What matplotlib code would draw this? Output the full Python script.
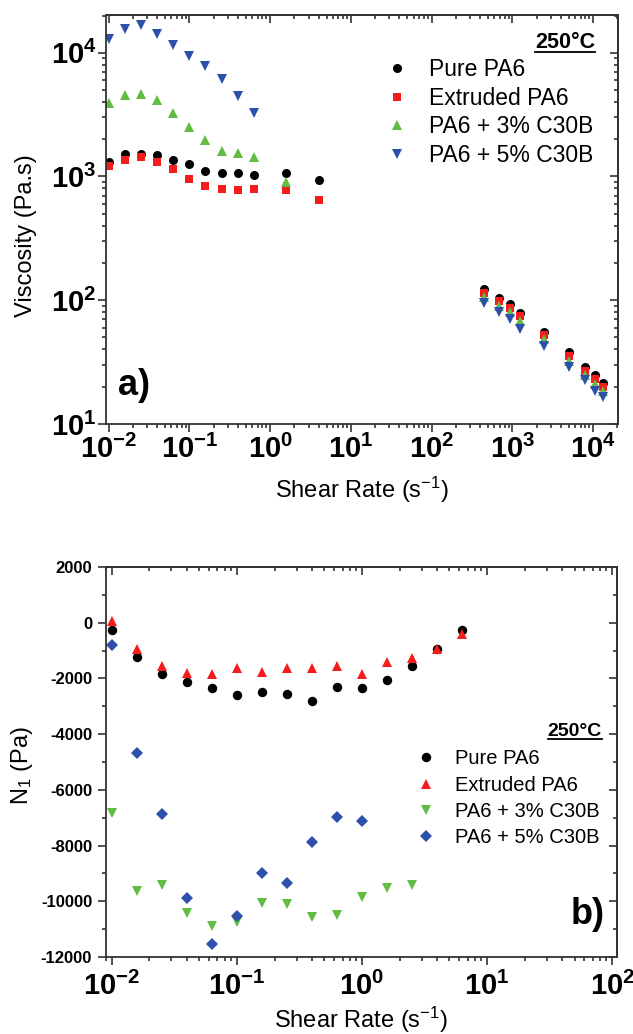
import numpy as np
import matplotlib.pyplot as plt
from matplotlib.ticker import LogLocator, MultipleLocator, NullFormatter
from matplotlib.lines import Line2D

plt.rcParams.update({
    "font.family": "Liberation Sans",
    "mathtext.fontset": "custom",
    "mathtext.rm": "Liberation Sans",
    "mathtext.bf": "Liberation Sans:bold",
    "mathtext.it": "Liberation Sans:italic",
    "axes.linewidth": 1.3,
    "axes.edgecolor": "#333333",
})

# ---- data: panel a) viscosity ----
rate_lo = [0.01, 0.0158, 0.0251, 0.0398, 0.0631, 0.1, 0.158, 0.251, 0.398, 0.631]
rate_mid = [1.58, 3.98]
rate_hi = [446, 678, 926, 1245, 2430, 5090, 7940, 10700, 13400]

eta_pure = [1320, 1520, 1520, 1500, 1370, 1270, 1110, 1070, 1070, 1030,
            1060, 930,
            124, 104, 93.4, 79, 55.5, 38, 28.9, 25, 21.5]
eta_extr = [1220, 1370, 1440, 1300, 1140, 955, 838, 787, 773, 794,
            783, 643,
            115, 98, 87, 74, 52, 35.5, 27, 23, 20]
eta_c3 = [3940, 4590, 4640, 4130, 3270, 2530, 1980, 1610, 1540, 1430,
          910,
          106, 90, 80, 68, 49, 32.5, 25, 21, 18.5]
eta_c5 = [13000, 15700, 16700, 14300, 11500, 9460, 7870, 6120, 4500, 3240,
          95, 80.5, 70.7, 58.6, 43, 28.9, 22.5, 18.4, 16.5]

# ---- data: panel b) first normal stress difference ----
n1_rate = [0.01, 0.0158, 0.0251, 0.0398, 0.0631, 0.1, 0.158, 0.251, 0.398,
           0.631, 1.0, 1.58, 2.51, 3.98, 6.31]
n1_pure = [-250, -1220, -1840, -2120, -2360, -2600, -2500, -2560, -2810,
           -2300, -2360, -2060, -1540, -960, -260]
n1_extr = [50, -960, -1550, -1820, -1850, -1640, -1760, -1620, -1640,
           -1540, -1850, -1400, -1280, -945, -420]
n1_c3 = [-6845, -9630, -9420, -10430, -10880, -10760, -10080, -10110, -10560,
         -10500, -9860, -9520, -9430]
n1_c5 = [-800, -4670, -6870, -9870, -11550, -10520, -8980, -9340, -7860,
         -6970, -7120]

labels = ["Pure PA6", "Extruded PA6", "PA6 + 3% C30B", "PA6 + 5% C30B"]
colors = ["#000000", "#f41c1c", "#62bb42", "#2d50aa"]

visc_xticks = [1e-2, 1e-1, 1e0, 1e1, 1e2, 1e3, 1e4]
visc_xticklabels = [r"$\mathbf{10^{-2}}$", r"$\mathbf{10^{-1}}$", r"$\mathbf{10^{0}}$",
                    r"$\mathbf{10^{1}}$", r"$\mathbf{10^{2}}$", r"$\mathbf{10^{3}}$",
                    r"$\mathbf{10^{4}}$"]
visc_yticks = [1e1, 1e2, 1e3, 1e4]
visc_yticklabels = [r"$\mathbf{10^{1}}$", r"$\mathbf{10^{2}}$", r"$\mathbf{10^{3}}$",
                    r"$\mathbf{10^{4}}$"]
n1_xticks = [1e-2, 1e-1, 1e0, 1e1, 1e2]
n1_xticklabels = [r"$\mathbf{10^{-2}}$", r"$\mathbf{10^{-1}}$", r"$\mathbf{10^{0}}$",
                  r"$\mathbf{10^{1}}$", r"$\mathbf{10^{2}}$"]
n1_yticks = [2000, 0, -2000, -4000, -6000, -8000, -10000, -12000]
n1_yticklabels = ["2000", "0", "-2000", "-4000", "-6000", "-8000", "-10000", "-12000"]

fig = plt.figure(figsize=(6.33, 10.34), dpi=100)
ax1 = fig.add_axes([0.1675, 0.590, 0.809, 0.3955])
ax2 = fig.add_axes([0.1675, 0.0745, 0.807, 0.3772])

tick_kw = dict(color="#333333", width=1.2)


def log_minor():
    return LogLocator(base=10, subs=np.arange(2, 10), numticks=100)


# ---- panel a ----
ax1.plot(rate_lo + rate_mid + rate_hi, eta_pure, "o", ms=6.5, color=colors[0], mew=0, label=labels[0])
ax1.plot(rate_lo + rate_mid + rate_hi, eta_extr, "s", ms=5.8, color=colors[1], mew=0, label=labels[1])
ax1.plot(rate_lo + rate_mid[:1] + rate_hi, eta_c3, "^", ms=7.8, color=colors[2], mew=0, label=labels[2])
ax1.plot(rate_lo + rate_hi, eta_c5, "v", ms=7.8, color=colors[3], mew=0, label=labels[3])
ax1.set_xscale("log")
ax1.set_yscale("log")
ax1.set_xlim(0.0093, 20400)
ax1.set_ylim(10, 20200)
ax1.set_xticks(visc_xticks, visc_xticklabels, fontsize=21)
ax1.set_yticks(visc_yticks, visc_yticklabels, fontsize=21)
ax1.xaxis.set_minor_locator(log_minor())
ax1.yaxis.set_minor_locator(log_minor())
ax1.xaxis.set_minor_formatter(NullFormatter())
ax1.yaxis.set_minor_formatter(NullFormatter())
ax1.tick_params(which="major", direction="out", length=6, pad=2, **tick_kw)
ax1.tick_params(which="minor", direction="out", length=3, **tick_kw)
ax1.tick_params(axis="y", which="major", pad=1)

for sec in (ax1.secondary_xaxis("top"), ax1.secondary_yaxis("right")):
    sec.tick_params(which="major", direction="in", length=6, **tick_kw)
    sec.tick_params(which="minor", direction="in", length=3, **tick_kw)
    sec.tick_params(labeltop=False, labelright=False, labelleft=False, labelbottom=False)
    if sec._orientation == "x":
        sec.set_xticks(visc_xticks)
        sec.xaxis.set_minor_locator(log_minor())
    else:
        sec.set_yticks(visc_yticks)
        sec.yaxis.set_minor_locator(log_minor())

ax1.set_xlabel("Shear Rate (s$^{\\mathregular{-1}}$)", fontsize=17)
ax1.set_ylabel("Viscosity (Pa.s)", fontsize=17)
ax1.xaxis.set_label_coords(0.5, -0.125)
ax1.yaxis.set_label_coords(-0.135, 0.46)

ax1.legend(loc="upper left", bbox_to_anchor=(0.546, 0.895), frameon=False, fontsize=16.5,
           handlelength=1.0, handletextpad=0.9, labelspacing=0.25, borderpad=0,
           borderaxespad=0, numpoints=1)
t1 = ax1.text(0.955, 0.932, "250°C", transform=ax1.transAxes, ha="right", va="center",
              fontsize=15.5, fontweight="bold")
ax1.text(0.023, 0.095, "a)", transform=ax1.transAxes, ha="left", va="center",
         fontsize=26, fontweight="bold")

# ---- panel b ----
ax2.plot(n1_rate, n1_pure, "o", ms=6.8, color=colors[0], mew=0, label=labels[0])
ax2.plot(n1_rate, n1_extr, "^", ms=7.5, color=colors[1], mew=0, label=labels[1])
ax2.plot(n1_rate[:len(n1_c3)], n1_c3, "v", ms=7.5, color=colors[2], mew=0, label=labels[2])
ax2.plot(n1_rate[:len(n1_c5)], n1_c5, "D", ms=6, color=colors[3], mew=0, label=labels[3])
ax2.set_xscale("log")
ax2.set_xlim(0.009, 109)
ax2.set_ylim(-12000, 2000)
ax2.set_xticks(n1_xticks, n1_xticklabels, fontsize=21)
ax2.set_yticks(n1_yticks, n1_yticklabels, fontsize=12, fontweight="bold")
ax2.xaxis.set_minor_locator(log_minor())
ax2.xaxis.set_minor_formatter(NullFormatter())
ax2.yaxis.set_minor_locator(MultipleLocator(1000))
ax2.tick_params(which="major", direction="out", length=6, pad=5, **tick_kw)
ax2.tick_params(which="minor", direction="out", length=3, **tick_kw)
ax2.tick_params(axis="y", which="major", pad=4)

for sec in (ax2.secondary_xaxis("top"), ax2.secondary_yaxis("right")):
    sec.tick_params(which="major", direction="in", length=6, **tick_kw)
    sec.tick_params(which="minor", direction="in", length=3, **tick_kw)
    sec.tick_params(labeltop=False, labelright=False, labelleft=False, labelbottom=False)
    if sec._orientation == "x":
        sec.set_xticks(n1_xticks)
        sec.xaxis.set_minor_locator(log_minor())
    else:
        sec.set_yticks(n1_yticks)
        sec.yaxis.set_minor_locator(MultipleLocator(1000))

ax2.set_xlabel("Shear Rate (s$^{\\mathregular{-1}}$)", fontsize=17)
ax2.set_ylabel("N$_{\\mathregular{1}}$ (Pa)", fontsize=17)
ax2.xaxis.set_label_coords(0.5, -0.123)
ax2.yaxis.set_label_coords(-0.139, 0.49)

ax2.legend(loc="upper left", bbox_to_anchor=(0.607, 0.532), frameon=False, fontsize=14.5,
           handlelength=1.0, handletextpad=0.95, labelspacing=0.36, borderpad=0,
           borderaxespad=0, numpoints=1)
t2 = ax2.text(0.971, 0.577, "250°C", transform=ax2.transAxes, ha="right", va="center",
              fontsize=14, fontweight="bold")
ax2.text(0.977, 0.108, "b)", transform=ax2.transAxes, ha="right", va="center",
         fontsize=26, fontweight="bold")

# underline the temperature labels
fig.canvas.draw()
inv = fig.transFigure.inverted()
for t in (t1, t2):
    bb = t.get_window_extent()
    (x0, y0), (x1, _) = inv.transform([(bb.x0, bb.y0), (bb.x1, bb.y1)])
    fig.add_artist(Line2D([x0, x1], [y0 + 0.001, y0 + 0.001], transform=fig.transFigure,
                          color="black", lw=1.3))

fig.savefig("out.png", dpi=100, facecolor="white")
